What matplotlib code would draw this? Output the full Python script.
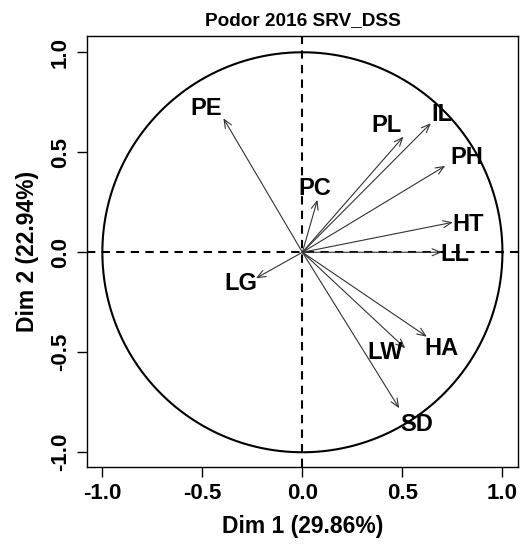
import numpy as np
import matplotlib
matplotlib.use("Agg")
import matplotlib.pyplot as plt

plt.rcParams['font.family'] = ['Liberation Sans', 'DejaVu Sans']

variables = ["PE", "PL", "IL", "PH", "HT", "LL", "PC", "LG", "HA", "LW", "SD"]
dim1 = [-0.395, 0.505, 0.642, 0.714, 0.752, 0.697, 0.075, -0.232, 0.622, 0.514, 0.484]
dim2 = [0.670, 0.578, 0.645, 0.432, 0.150, 0.000, 0.262, -0.130, -0.422, -0.480, -0.780]
ticks = [-1.0, -0.5, 0.0, 0.5, 1.0]
tick_labels = ["-1.0", "-0.5", "0.0", "0.5", "1.0"]
title = "Podor 2016 SRV_DSS"
xlabel = "Dim 1 (29.86%)"
ylabel = "Dim 2 (22.94%)"

# label offsets (layout), in data units
label_dx = [-0.085, -0.085, 0.058, 0.106, 0.078, 0.066, -0.011, -0.078, 0.072, -0.100, 0.086]
label_dy = [0.050, 0.054, 0.045, 0.044, -0.010, -0.013, 0.058, -0.025, -0.061, -0.020, -0.080]

fig = plt.figure(figsize=(5.2, 5.46), dpi=100)
ax = fig.add_axes([0.168, 0.1453, 0.829, 0.789])
ax.set_xlim(-1.075, 1.08)
ax.set_ylim(-1.072, 1.082)

th = np.linspace(0, 2 * np.pi, 400)
ax.plot(np.cos(th), np.sin(th), color='black', lw=1.5)
ax.axhline(0, color='black', lw=1.5, dashes=(4, 3))
ax.axvline(0, color='black', lw=1.5, dashes=(4, 3))

for name, x, y, dx, dy in zip(variables, dim1, dim2, label_dx, label_dy):
    ax.annotate("", xy=(x, y), xytext=(0, 0),
                arrowprops=dict(arrowstyle="->,head_length=0.6,head_width=0.25",
                                color='#333333', lw=0.8, shrinkA=0, shrinkB=0))
    ax.text(x + dx, y + dy, name, fontsize=17, fontweight='bold',
            ha='center', va='center', color='black')

ax.set_xticks(ticks)
ax.set_xticklabels(tick_labels)
ax.set_yticks(ticks)
ax.set_yticklabels(tick_labels, rotation=90, va='center')
ax.tick_params(axis='both', direction='out', length=7, width=1, labelsize=16, pad=5)
for lab in ax.get_xticklabels() + ax.get_yticklabels():
    lab.set_fontweight('bold')
for s in ax.spines.values():
    s.set_linewidth(1)

ax.set_xlabel(xlabel, fontsize=16.5, fontweight='bold', labelpad=8)
ax.set_ylabel(ylabel, fontsize=16.5, fontweight='bold', labelpad=8)
ax.set_title(title, fontsize=13.7, fontweight='bold', pad=8)

fig.savefig("out.png", dpi=100)
